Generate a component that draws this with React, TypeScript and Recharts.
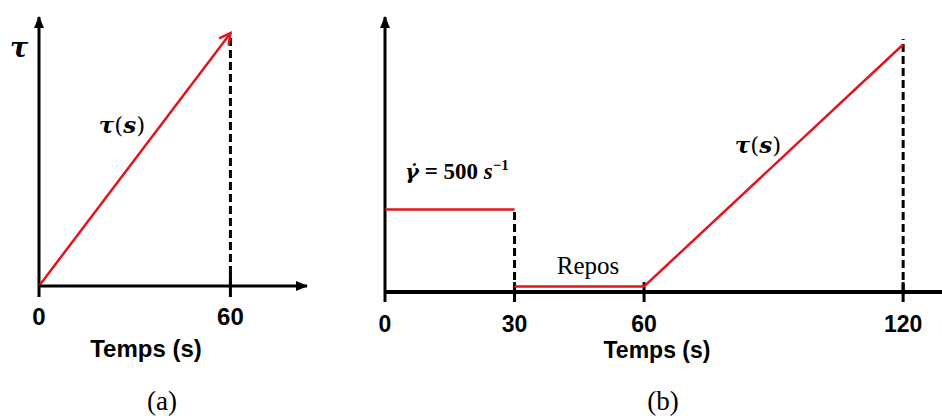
import { LineChart, Line, XAxis, YAxis, ReferenceLine } from 'recharts'

const RED = '#e3141b'
const BLACK = '#000'
const SANS = '"Liberation Sans", Arial, sans-serif'
const SERIF = '"Liberation Serif", "DejaVu Serif", serif'
const MATH = '"DejaVu Serif", serif'

// panel (a): stress ramp up to 60 s
const ticksA = [0, 60]
const rampA = [
  { t: 0, tau: 0 },
  { t: 60, tau: 94 },
]
const dashTopA = 94
const domainA: [number, number] = [0, 84]

// panel (b): shear at 500 s-1, rest, then stress ramp
const ticksB = [0, 30, 60, 120]
const shearB = [
  { t: 0, tau: 30 },
  { t: 30, tau: 30 },
]
const restRampB = [
  { t: 30, tau: 2 },
  { t: 60, tau: 2 },
  { t: 120, tau: 90 },
]
const dashesB = [
  { t: 30, top: 30 },
  { t: 120, top: 92 },
]
const notchesB = [30, 60, 120]
const domainB: [number, number] = [0, 129]

// bold tick text, top of digits sits at y
const BoldTick = ({ x, y, payload, size }: any) => (
  <text x={x} y={y + size * 0.72} textAnchor="middle" fill={BLACK} fontFamily={SANS} fontWeight={700} fontSize={size}>
    {payload.value}
  </text>
)

function Markers() {
  return (
    <svg width={0} height={0} style={{ position: 'absolute' }}>
      <defs>
        <marker id="axArrow" viewBox="0 0 12 10" refX={11} refY={5} markerWidth={12} markerHeight={10}
          markerUnits="userSpaceOnUse" orient="auto-start-reverse">
          <path d="M0,0 L12,5 L0,10 z" fill={BLACK} />
        </marker>
        <marker id="redArrow" viewBox="0 0 14 14" refX={12} refY={7} markerWidth={14} markerHeight={14}
          markerUnits="userSpaceOnUse" orient="auto" overflow="visible">
          <path d="M1,1 L12,7 L1,13" fill="none" stroke={RED} strokeWidth={2.5} />
        </marker>
      </defs>
    </svg>
  )
}

function PanelA() {
  return (
    <div style={{ position: 'absolute', left: 0, top: 0 }}>
      <LineChart width={330} height={416} margin={{ top: 17, right: 23, left: 39, bottom: 90 }}>
        <XAxis
          dataKey="t"
          type="number"
          domain={domainA}
          ticks={ticksA}
          interval={0}
          height={40}
          axisLine={{ stroke: BLACK, strokeWidth: 3, markerEnd: 'url(#axArrow)' }}
          tickLine={{ stroke: BLACK, strokeWidth: 3 }}
          tickSize={11}
          tickMargin={11}
          tick={(p: any) => <BoldTick {...p} size={24} />}
        />
        <YAxis type="number" domain={[0, 100]} hide />
        {/* vertical axis with arrow */}
        <ReferenceLine
          segment={[{ x: 0, y: 0 }, { x: 0, y: 100 }]}
          stroke={BLACK}
          strokeWidth={3}
          markerEnd="url(#axArrow)"
          ifOverflow="visible"
        />
        <ReferenceLine
          segment={[{ x: 60, y: 0 }, { x: 60, y: dashTopA }]}
          stroke={BLACK}
          strokeWidth={3}
          strokeDasharray="8 4"
        />
        <ReferenceLine segment={[{ x: 60, y: 0 }, { x: 60, y: 5 }]} stroke={BLACK} strokeWidth={3} />
        <Line
          data={rampA}
          dataKey="tau"
          type="linear"
          stroke={RED}
          strokeWidth={2.5}
          dot={false}
          activeDot={false}
          markerEnd="url(#redArrow)"
          isAnimationActive={false}
        />
      </LineChart>
    </div>
  )
}

function PanelB() {
  return (
    <div style={{ position: 'absolute', left: 340, top: 0 }}>
      <LineChart width={602} height={416} margin={{ top: 17, right: 0, left: 45, bottom: 84 }}>
        <XAxis
          dataKey="t"
          type="number"
          domain={domainB}
          ticks={ticksB}
          interval={0}
          height={40}
          axisLine={{ stroke: BLACK, strokeWidth: 4 }}
          tickLine={{ stroke: BLACK, strokeWidth: 3 }}
          tickSize={10}
          tickMargin={13}
          tick={(p: any) => <BoldTick {...p} size={23} />}
        />
        <YAxis type="number" domain={[0, 100]} hide />
        <ReferenceLine
          segment={[{ x: 0, y: 0 }, { x: 0, y: 100 }]}
          stroke={BLACK}
          strokeWidth={3}
          markerEnd="url(#axArrow)"
          ifOverflow="visible"
        />
        {dashesB.map((d) => (
          <ReferenceLine
            key={'d' + d.t}
            segment={[{ x: d.t, y: 0 }, { x: d.t, y: d.top }]}
            stroke={BLACK}
            strokeWidth={3}
            strokeDasharray="8 4"
          />
        ))}
        {notchesB.map((t) => (
          <ReferenceLine key={'n' + t} segment={[{ x: t, y: 0 }, { x: t, y: 3.6 }]} stroke={BLACK} strokeWidth={3} />
        ))}
        <Line
          data={shearB}
          dataKey="tau"
          type="linear"
          stroke={RED}
          strokeWidth={2.5}
          dot={false}
          activeDot={false}
          isAnimationActive={false}
        />
        <Line
          data={restRampB}
          dataKey="tau"
          type="linear"
          stroke={RED}
          strokeWidth={2.5}
          dot={false}
          activeDot={false}
          isAnimationActive={false}
        />
      </LineChart>
    </div>
  )
}

function Labels() {
  const bi = { fontWeight: 700, fontStyle: 'italic' as const }
  return (
    <svg width={942} height={416} style={{ position: 'absolute', left: 0, top: 0, pointerEvents: 'none' }}>
      <text x={19} y={57} textAnchor="middle" fontFamily={MATH} fontSize={27} {...bi}>τ</text>
      <text x={122} y={133} textAnchor="middle" fontFamily={MATH} fontSize={23}>
        <tspan {...bi}>τ</tspan>(<tspan {...bi}>s</tspan>)
      </text>
      <text x={146} y={357} textAnchor="middle" fontFamily={SANS} fontSize={24} fontWeight={700}>Temps (s)</text>
      <text x={162} y={410} textAnchor="middle" fontFamily={SERIF} fontSize={27}>(a)</text>

      <text x={405} y={179} fontFamily={SERIF} fontSize={23} fontWeight={700}>
        <tspan fontFamily={MATH} fontStyle="italic" fontSize={21}>γ̇</tspan> = 500 <tspan fontStyle="italic">s</tspan>
        <tspan dy={-9} fontSize={15}>−1</tspan>
      </text>
      <text x={588} y={274} textAnchor="middle" fontFamily={SERIF} fontSize={25}>Repos</text>
      <text x={758} y={153} textAnchor="middle" fontFamily={MATH} fontSize={23}>
        <tspan {...bi}>τ</tspan>(<tspan {...bi}>s</tspan>)
      </text>
      <text x={657} y={358} textAnchor="middle" fontFamily={SANS} fontSize={23} fontWeight={700}>Temps (s)</text>
      <text x={663} y={410} textAnchor="middle" fontFamily={SERIF} fontSize={27}>(b)</text>
    </svg>
  )
}

export default function App() {
  return (
    <div style={{ position: 'absolute', left: 0, top: 0, width: 942, height: 416, background: '#fff', overflow: 'hidden' }}>
      <Markers />
      <PanelA />
      <PanelB />
      <Labels />
    </div>
  )
}
